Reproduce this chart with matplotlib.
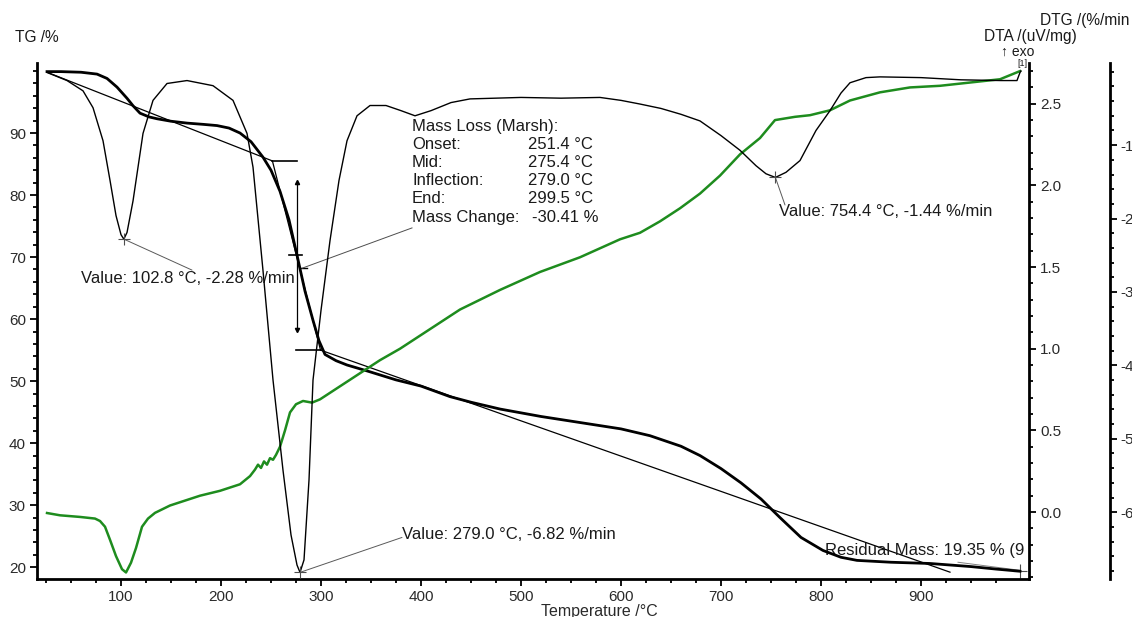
import matplotlib
matplotlib.use("Agg")
import matplotlib.pyplot as plt
from matplotlib.ticker import FixedLocator, FormatStrFormatter

plt.rcParams['font.family'] = ['Liberation Sans', 'DejaVu Sans']
plt.rcParams['axes.unicode_minus'] = False

# TG curve (temperature / mass %)
tg_t = [26, 40, 60, 76, 86, 96, 106, 112, 119, 128, 136, 150, 166, 182, 196, 208, 219, 230,
        242, 250, 259, 268, 276, 284, 292, 298, 304, 315, 326, 347, 375, 400, 429, 450, 479,
        520, 560, 600, 629, 660, 679, 700, 720, 740, 759, 780, 802, 820, 836, 870, 909, 950,
        975, 999]
tg_v = [99.9, 99.9, 99.8, 99.5, 98.8, 97.4, 95.6, 94.4, 93.2, 92.6, 92.3, 91.9, 91.6, 91.4,
        91.2, 90.8, 90.0, 88.6, 86.1, 84.0, 80.6, 76.0, 70.3, 64.5, 59.8, 56.5, 54.3, 53.3,
        52.6, 51.6, 50.2, 49.2, 47.5, 46.6, 45.5, 44.3, 43.3, 42.3, 41.2, 39.5, 38.0, 35.9,
        33.6, 31.0, 28.0, 24.8, 22.7, 21.6, 21.1, 20.8, 20.6, 20.1, 19.7, 19.35]

# DTG curve (%/min)
dtg_t = [26, 46, 62, 72, 82, 89, 95, 100, 102.8, 106, 112, 122, 132, 146, 166, 192, 212,
         226, 232, 242, 252, 262, 270, 276, 279, 283, 288, 292, 300, 309, 318, 326, 336, 349,
         365, 380, 394, 410, 430, 449, 500, 540, 579, 600, 619, 640, 660, 679, 700, 719, 735,
         745, 754.4, 765, 779, 795, 809, 820, 829, 845, 859, 900, 940, 980, 996, 999, 1000]
dtg_v = [-0.01, -0.12, -0.26, -0.49, -0.94, -1.48, -1.96, -2.22, -2.28, -2.19, -1.76,
         -0.84, -0.39, -0.16, -0.12, -0.19, -0.39, -0.84, -1.30, -2.71, -4.20, -5.43, -6.31,
         -6.72, -6.82, -6.65, -5.56, -4.20, -3.25, -2.30, -1.48, -0.94, -0.60, -0.46, -0.46,
         -0.53, -0.60, -0.53, -0.42, -0.37, -0.35, -0.36, -0.35, -0.39, -0.44, -0.50, -0.58,
         -0.67, -0.87, -1.07, -1.28, -1.39, -1.44, -1.37, -1.21, -0.80, -0.53, -0.29, -0.15,
         -0.08, -0.07, -0.08, -0.11, -0.12, -0.12, -0.01, 0.01]

# DTA curve (uV/mg)
dta_t = [26, 39, 59, 74, 79, 84, 89, 95, 101, 105, 110, 115, 121, 127, 134, 149, 164,
         179, 199, 219, 229, 234, 237, 240, 243, 246, 249, 252, 255, 259, 264, 269, 275, 282,
         291, 299, 309, 324, 339, 359, 379, 409, 439, 479, 519, 559, 599, 619, 639, 659, 679,
         699, 719, 739, 754, 774, 789, 809, 829, 859, 889, 919, 949, 979, 999]
dta_v = [-0.006, -0.02, -0.03, -0.04, -0.055, -0.09, -0.17, -0.27, -0.35, -0.37, -0.31,
         -0.22, -0.09, -0.04, -0.005, 0.04, 0.07, 0.10, 0.13, 0.17, 0.22, 0.26, 0.29, 0.27,
         0.31, 0.29, 0.33, 0.32, 0.35, 0.40, 0.50, 0.61, 0.66, 0.68, 0.67, 0.69, 0.73, 0.79,
         0.85, 0.93, 1.00, 1.12, 1.24, 1.36, 1.47, 1.56, 1.67, 1.71, 1.78, 1.86, 1.95, 2.06,
         2.19, 2.29, 2.40, 2.42, 2.43, 2.46, 2.52, 2.57, 2.60, 2.61, 2.63, 2.65, 2.70]

# Marsh evaluation of the main step
onset, mid, inflection, end = 251.4, 275.4, 279.0, 299.5
tg_start, tg_onset, tg_end = (26, 99.8), 85.5, 55.0
tail_end = (929, 19.2)
peaks = [(102.8, -2.28), (279.0, -6.82), (754.4, -1.44)]
residual = (999, 19.35)

fig = plt.figure(figsize=(11.32, 6.17), dpi=100)
ax = fig.add_axes([0.0327, 0.0616, 0.8763, 0.8364])
ax2 = ax.twinx()
ax3 = ax.twinx()

green = '#1e8c1e'
ax.plot(tg_t, tg_v, color='black', lw=2.0, zorder=5)
ax3.plot(dtg_t, dtg_v, color='black', lw=1.0)
ax2.plot(dta_t, dta_v, color=green, lw=1.8)

# tangent / baseline construction
ax.plot([tg_start[0], onset], [tg_start[1], tg_onset], color='black', lw=0.9)
ax.plot([onset, mid + 1], [tg_onset, tg_onset], color='black', lw=1.2)
ax.plot([onset, end], [tg_onset, tg_end], color='black', lw=0.9)
ax.plot([mid, end], [tg_end, tg_end], color='black', lw=1.2)
ax.plot([end, tail_end[0]], [tg_end, tail_end[1]], color='black', lw=0.9)
ax.plot([mid + 0.5, mid + 0.5], [82.1, 58.2], color='black', lw=0.9)
ax.plot([mid + 0.5], [82.1], marker='^', ms=3, color='black')
ax.plot([mid + 0.5], [58.2], marker='v', ms=3, color='black')
ax.plot([mid - 7, mid + 6], [70.3, 70.3], color='black', lw=1.2)
ax.plot([inflection, inflection + 7], [68.2, 68.2], color='black', lw=1.0)
ax.plot([inflection + 2, 391], [68.2, 74.7], color='0.3', lw=0.7)

# peak markers and leader lines
ax3.plot([p[0] for p in peaks], [p[1] for p in peaks], '+', color='0.3', ms=9, mew=0.8)
ends = [(171, 67.9), (381, 24.8), (764, 78.4)]
for p, e in zip(peaks, ends):
    ax.annotate('', xy=p, xycoords=ax3.transData, xytext=e, textcoords='data',
                arrowprops=dict(arrowstyle='-', lw=0.7, color='0.35', shrinkA=0, shrinkB=0))
ax.plot([residual[0]], [residual[1]], '+', color='0.3', ms=10, mew=0.8)
ax.plot([937, residual[0]], [20.8, 19.5], color='0.5', lw=0.7)

fs = 12
tc = '#1a1a1a'
ax.text(60, 66.6, 'Value: 102.8 °C, -2.28 %/min', fontsize=fs, va='center', color=tc)
ax.text(381, 25.3, 'Value: 279.0 °C, -6.82 %/min', fontsize=fs, va='center', color=tc)
ax.text(758, 77.3, 'Value: 754.4 °C, -1.44 %/min', fontsize=fs, va='center', color=tc)
ax.text(804, 22.7, 'Residual Mass: 19.35 % (9', fontsize=fs, va='center', color=tc,
        clip_on=True)

names = ['Mass Loss (Marsh):', 'Onset:', 'Mid:', 'Inflection:', 'End:', 'Mass Change:']
vals = ['', '%.1f °C' % onset, '%.1f °C' % mid, '%.1f °C' % inflection, '%.1f °C' % end,
        '-30.41 %']
rows = [91.1, 88.2, 85.3, 82.3, 79.4, 76.3]
for n, v, r in zip(names, vals, rows):
    ax.text(391, r, n, fontsize=fs, va='center', color=tc)
    if v:
        ax.text(507 if v.endswith('C') else 511, r, v, fontsize=fs, va='center', color=tc)

# axes limits and ticks
ax.set_xlim(16, 1008)
ax.set_ylim(18.1, 101.3)
ax2.set_ylim(-0.41, 2.75)
ax3.set_ylim(-6.91, 0.12)

ax.set_xticks(range(100, 1000, 100))
ax.xaxis.set_minor_locator(FixedLocator(range(25, 1000, 25)))
ax.set_yticks(range(20, 100, 10))
ax.yaxis.set_minor_locator(FixedLocator(range(20, 101, 2)))
ax2.set_yticks([0.0, 0.5, 1.0, 1.5, 2.0, 2.5])
ax2.yaxis.set_major_formatter(FormatStrFormatter('%.1f'))
ax2.yaxis.set_minor_locator(FixedLocator([i / 10 for i in range(-4, 28)]))
ax3.set_yticks([-6, -5, -4, -3, -2, -1])
ax3.yaxis.set_minor_locator(FixedLocator([i / 5 for i in range(-34, 1)]))

for s in ['top', 'right']:
    ax.spines[s].set_visible(False)
for s in ['top', 'left', 'bottom']:
    ax2.spines[s].set_visible(False)
    ax3.spines[s].set_visible(False)
ax3.spines['right'].set_position(('outward', 58))
for a in (ax, ax2, ax3):
    for s in a.spines.values():
        s.set_linewidth(2.0)
    a.tick_params(which='major', length=5, width=1.3, labelsize=11, colors='black',
                  labelcolor='#2a2a2a', pad=3)
    a.tick_params(which='minor', length=3, width=1.3)

ax.set_xlabel('Temperature /°C', fontsize=11.5, color='#2a2a2a')
ax.xaxis.set_label_coords(0.567, -0.048)

fig.text(15 / 1132, 1 - 38 / 617, 'TG /%', fontsize=11.2, va='center', color=tc)
fig.text(1077 / 1132, 1 - 37 / 617, 'DTA /(uV/mg)', fontsize=11.2, va='center', ha='right',
         color=tc)
fig.text(1040 / 1132, 1 - 20 / 617, 'DTG /(%/min', fontsize=11.2, va='center', color=tc)
fig.text(1001 / 1132, 1 - 52 / 617, '↑ exo', fontsize=10, va='center', color=tc)
fig.text(1017 / 1132, 1 - 63 / 617, '[1]', fontsize=6.5, va='center', color=tc)

fig.savefig('out.png', dpi=100)
